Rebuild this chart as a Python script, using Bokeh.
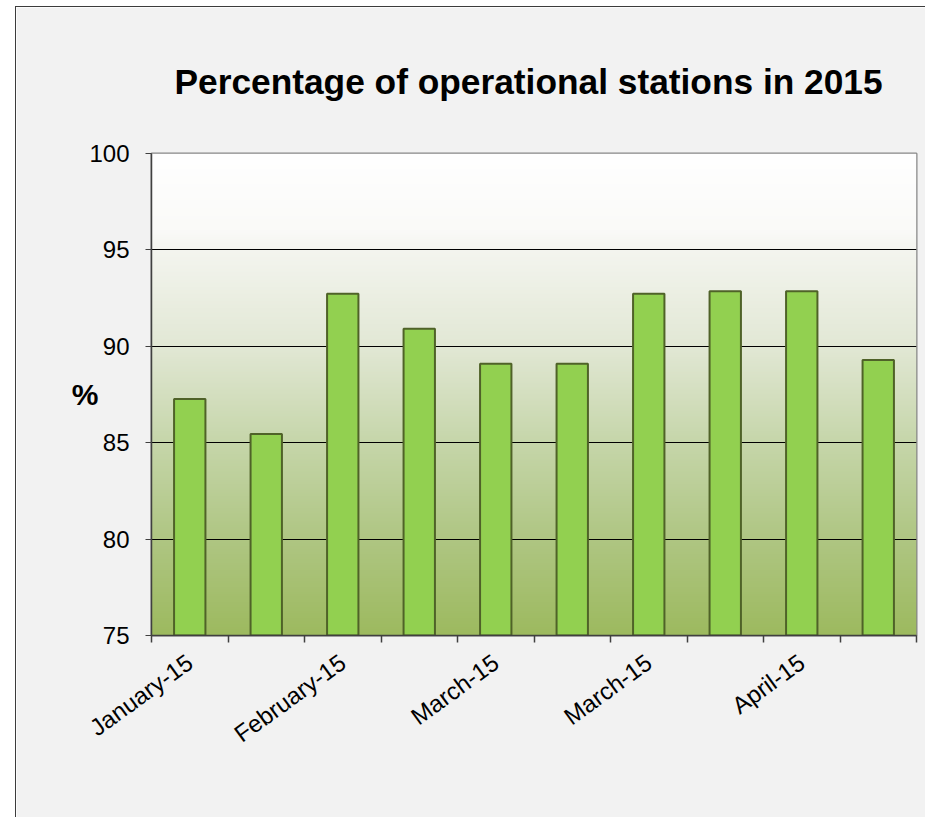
import numpy as np
from bokeh.plotting import figure
from bokeh.models import FixedTicker, Range1d
from bokeh.embed import file_html
from bokeh.resources import INLINE

# ---- data ----
title_text = "Percentage of operational stations in 2015"
y_label = "%"
# one value per monthly bar (10 bars)
values = [87.27, 85.45, 92.73, 90.91, 89.09, 89.09, 92.73, 92.86, 92.86, 89.29]
# category labels shown on the axis (every other bar)
tick_labels = ["January-15", "February-15", "March-15", "March-15", "April-15"]
label_step = 2
y_ticks = [75, 80, 85, 90, 95, 100]

FONT = "Liberation Sans"
n = len(values)
x = np.arange(n) + 0.5

p = figure(width=910, height=811, output_backend="svg", toolbar_location=None,
           x_range=Range1d(0, n), y_range=Range1d(y_ticks[0], y_ticks[-1]),
           min_border_left=135, min_border_right=10, min_border_top=146, min_border_bottom=183)
p.styles = {"margin-left": "15px", "margin-top": "6px",
            "border-left": "1px solid #3c3c3c", "border-top": "1px solid #3c3c3c"}
p.border_fill_color = "#F2F2F2"
p.background_fill_color = "#FFFFFF"
p.outline_line_color = "#868686"
p.outline_line_width = 2

# gradient plot-area background (styling only)
stops_v = np.array([75, 80, 85, 90, 95, 96, 100], dtype=float)
stops_c = np.array([[157, 186, 95], [175, 198, 131], [198, 214, 170], [226, 232, 213],
                    [244, 245, 239], [250, 250, 248], [255, 255, 255]], dtype=float)
rows = 400
yy = np.linspace(y_ticks[0], y_ticks[-1], rows)
rgb = np.stack([np.interp(yy, stops_v, stops_c[:, k]) for k in range(3)], axis=1).astype(np.uint32)
img = (255 << 24) | (rgb[:, 2] << 16) | (rgb[:, 1] << 8) | rgb[:, 0]
img = img.reshape(rows, 1).astype(np.uint32)
p.image_rgba(image=[img], x=0, y=y_ticks[0], dw=n, dh=y_ticks[-1] - y_ticks[0], level="image")

# bars
p.vbar(x=x, top=values, bottom=y_ticks[0], width=0.41,
       fill_color="#92D050", line_color="#4F6228", line_width=2)

# title
p.title.text = title_text
p.title.align = "left"
p.title.offset = 23
p.title.text_font = FONT
p.title.text_font_size = "35.3px"
p.title.text_font_style = "bold"
p.title.text_color = "#000000"
p.title.standoff = 105

# y axis
p.yaxis.ticker = FixedTicker(ticks=y_ticks)
p.yaxis.axis_line_color = "#404040"
p.yaxis.axis_line_width = 1.5
p.yaxis.major_tick_out = 6
p.yaxis.major_tick_in = 0
p.yaxis.major_tick_line_color = "#404040"
p.yaxis.minor_tick_line_color = None
p.yaxis.major_label_text_font = FONT
p.yaxis.major_label_text_font_size = "24px"
p.yaxis.major_label_text_color = "#000000"
p.yaxis.major_label_standoff = 16
p.yaxis.axis_label = y_label
p.yaxis.axis_label_orientation = "horizontal"
p.yaxis.axis_label_text_font = FONT
p.yaxis.axis_label_text_font_size = "30px"
p.yaxis.axis_label_text_font_style = "bold"
p.yaxis.axis_label_text_color = "#000000"
p.yaxis.axis_label_standoff = -12

# x axis: tick marks at category boundaries, labels every other category
label_pos = [float(x[i]) for i in range(0, n, label_step)]
p.xaxis.ticker = FixedTicker(ticks=label_pos, minor_ticks=list(range(n + 1)))
p.xaxis.major_label_overrides = {pos: lab for pos, lab in zip(label_pos, tick_labels)}
p.xaxis.major_label_orientation = np.deg2rad(36)
p.xaxis.major_label_text_font = FONT
p.xaxis.major_label_text_font_size = "24px"
p.xaxis.major_label_text_color = "#000000"
p.xaxis.major_label_standoff = 17
p.xaxis.major_tick_line_color = None
p.xaxis.minor_tick_out = 7
p.xaxis.minor_tick_in = 0
p.xaxis.minor_tick_line_color = "#404040"
p.xaxis.minor_tick_line_width = 1.5
p.xaxis.axis_line_color = "#404040"
p.xaxis.axis_line_width = 1.5

# grid
p.xgrid.grid_line_color = None
p.ygrid.ticker = FixedTicker(ticks=y_ticks[1:-1])
p.ygrid.grid_line_color = "#000000"
p.ygrid.grid_line_width = 1

open("out.html", "w").write(file_html(p, INLINE))
